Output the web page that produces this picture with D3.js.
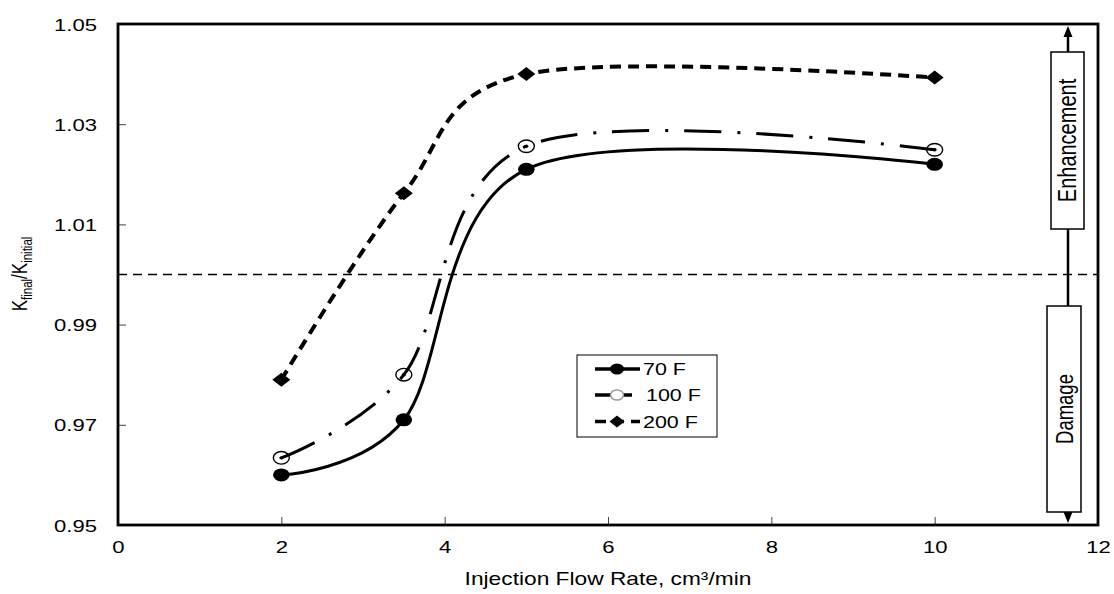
<!DOCTYPE html>
<html><head><meta charset="utf-8">
<script src="https://cdn.jsdelivr.net/npm/d3@7"></script>
<style>
html,body{margin:0;padding:0;background:#fff;}
svg text{font-family:"Liberation Sans",Arial,sans-serif;fill:#000;}
</style></head>
<body>
<svg id="chart" width="1114" height="594"></svg>
<script>
// ---- data ----
const flowRates = [2, 3.5, 5, 10];
const k70F  = [0.960, 0.971, 1.021, 1.022];
const k100F = [0.9634, 0.980, 1.0256, 1.0249];
const k200F = [0.979, 1.0162, 1.040, 1.0393];
const seriesNames = ["70 F", "100 F", "200 F"];
const xTickValues = [0, 2, 4, 6, 8, 10, 12];
const yTickValues = [0.95, 0.97, 0.99, 1.01, 1.03, 1.05];
const referenceLevel = 1.0;
const zoneLabels = ["Enhancement", "Damage"];
const xTitle = "Injection Flow Rate, cm³/min";

// ---- layout ----
const SX = 1.3; // horizontal text stretch
const svg = d3.select("#chart");
const L = 118, R = 1098, T = 24, B = 525;
const x = d3.scaleLinear().domain([0, 12]).range([L, R]);
const y = d3.scaleLinear().domain([0.95, 1.05]).range([B, T]);

// axes (ticks inward)
const gy = svg.append("g").attr("transform", `translate(${L},0)`)
  .call(d3.axisLeft(y).tickValues(yTickValues).tickFormat(d3.format(".2f"))
        .tickSizeInner(-8).tickSizeOuter(0).tickPadding(16));
const gx = svg.append("g").attr("transform", `translate(0,${B})`)
  .call(d3.axisBottom(x).tickValues(xTickValues).tickFormat(d3.format("d"))
        .tickSizeInner(-8).tickSizeOuter(0).tickPadding(16));
[gx, gy].forEach(g => {
  g.select(".domain").remove();
  g.selectAll(".tick line").attr("stroke", "#444").attr("stroke-width", 1);
  g.selectAll(".tick text").attr("font-size", 17).attr("fill", "#000")
    .attr("font-family", "Liberation Sans, Arial, sans-serif");
});
gy.selectAll(".tick text").attr("transform", `scale(${SX},1)`).attr("x", -21 / SX).attr("dy", "0.36em");
gx.selectAll(".tick text").attr("transform", `scale(${SX},1)`);
gx.selectAll(".tick").filter(d => d === 0 || d === 12).select("line").remove();

// reference dashed line at 1.0
svg.append("line")
  .attr("x1", x(0)).attr("x2", x(12)).attr("y1", y(referenceLevel)).attr("y2", y(referenceLevel))
  .attr("stroke", "#000").attr("stroke-width", 1.6).attr("stroke-dasharray", "9 6");

// plot border
svg.append("rect").attr("x", L).attr("y", T).attr("width", R - L).attr("height", B - T)
  .attr("fill", "none").attr("stroke", "#000").attr("stroke-width", 2.8);

// ---- series ----
const curve = d3.curveCardinal.tension(0);
const line = d3.line().x(d => x(d[0])).y(d => y(d[1])).curve(curve);
const zip = vals => flowRates.map((f, i) => [f, vals[i]]);
const styles = [
  { vals: k70F,  dash: null,          width: 3 },
  { vals: k100F, dash: "37 16 3 16",  width: 3 },
  { vals: k200F, dash: "11 7",        width: 4 }
];
styles.forEach(s => {
  svg.append("path").attr("d", line(zip(s.vals)))
    .attr("fill", "none").attr("stroke", "#000").attr("stroke-width", s.width)
    .attr("stroke-dasharray", s.dash);
});

const diamond = (cx, cy, hw, hh) => `M${cx},${cy-hh}L${cx+hw},${cy}L${cx},${cy+hh}L${cx-hw},${cy}Z`;
// markers
svg.append("g").selectAll("ellipse").data(zip(k70F)).join("ellipse")
  .attr("cx", d => x(d[0])).attr("cy", d => y(d[1])).attr("rx", 8.3).attr("ry", 6.5).attr("fill", "#000");
const m100 = svg.append("g").selectAll("g").data(zip(k100F)).join("g");
m100.append("ellipse").attr("cx", d => x(d[0])).attr("cy", d => y(d[1])).attr("rx", 8).attr("ry", 6.3)
  .attr("fill", "none").attr("stroke", "#000").attr("stroke-width", 1.4);
m100.append("ellipse").attr("cx", d => x(d[0])).attr("cy", d => y(d[1])).attr("rx", 2).attr("ry", 1.7).attr("fill", "#000");
svg.append("g").selectAll("path").data(zip(k200F)).join("path")
  .attr("d", d => diamond(x(d[0]), y(d[1]), 9, 7)).attr("fill", "#000");

// ---- legend ----
const lg = svg.append("g");
lg.append("rect").attr("x", 577).attr("y", 355).attr("width", 140).attr("height", 82)
  .attr("fill", "#fff").attr("stroke", "#000").attr("stroke-width", 1);
const rows = [369, 395, 421.5];
// 70 F
lg.append("line").attr("x1", 595).attr("x2", 640).attr("y1", rows[0]).attr("y2", rows[0]).attr("stroke", "#000").attr("stroke-width", 3.5);
lg.append("ellipse").attr("cx", 617).attr("cy", rows[0]).attr("rx", 7).attr("ry", 5.5).attr("fill", "#000");
// 100 F
lg.append("line").attr("x1", 595).attr("x2", 632).attr("y1", rows[1]).attr("y2", rows[1]).attr("stroke", "#000").attr("stroke-width", 3.5);
lg.append("ellipse").attr("cx", 617).attr("cy", rows[1]).attr("rx", 6.5).attr("ry", 5).attr("fill", "#fff").attr("stroke", "#999").attr("stroke-width", 1.5);
// 200 F
lg.append("line").attr("x1", 595).attr("x2", 640).attr("y1", rows[2]).attr("y2", rows[2]).attr("stroke", "#000").attr("stroke-width", 3.5).attr("stroke-dasharray", "11 7");
lg.append("path").attr("d", diamond(617, rows[2], 7.5, 6)).attr("fill", "#000");
const textX = [643, 646, 643];
seriesNames.forEach((n, i) => {
  lg.append("text").attr("transform", `translate(${textX[i]},${rows[i] + 6}) scale(${SX},1)`)
    .attr("font-size", 16.5).text(n);
});

// ---- enhancement / damage annotation ----
const ax = 1068;
svg.append("line").attr("x1", ax).attr("x2", ax).attr("y1", T + 10).attr("y2", B - 10)
  .attr("stroke", "#000").attr("stroke-width", 2.5);
svg.append("path").attr("d", `M${ax},${T + 2}L${ax + 4.5},${T + 13}L${ax - 4.5},${T + 13}Z`).attr("fill", "#000");
svg.append("path").attr("d", `M${ax},${B - 2}L${ax + 4.5},${B - 13}L${ax - 4.5},${B - 13}Z`).attr("fill", "#000");
const boxes = [
  { x0: 1051, x1: 1084, y0: 52, y1: 229, fs: 20 },
  { x0: 1047, x1: 1081, y0: 306, y1: 512, fs: 18.5 }
];
boxes.forEach((b, i) => {
  svg.append("rect").attr("x", b.x0).attr("y", b.y0).attr("width", b.x1 - b.x0).attr("height", b.y1 - b.y0)
    .attr("fill", "#fff").attr("stroke", "#000").attr("stroke-width", 1.5);
  svg.append("text")
    .attr("transform", `translate(${(b.x0 + b.x1) / 2 + 8.5},${(b.y0 + b.y1) / 2}) scale(${SX},1) rotate(-90)`)
    .attr("text-anchor", "middle").attr("font-size", b.fs).text(zoneLabels[i]);
});

// ---- axis titles ----
svg.append("text").attr("transform", `translate(${(L + R) / 2},${585}) scale(${SX},1)`)
  .attr("text-anchor", "middle").attr("font-size", 17.5).text(xTitle);
const yt = svg.append("text")
  .attr("transform", `translate(27,274) scale(${SX},1) rotate(-90)`)
  .attr("text-anchor", "middle").attr("font-size", 17);
yt.append("tspan").text("K");
yt.append("tspan").attr("font-size", 11.5).attr("dy", 4).text("final");
yt.append("tspan").attr("dy", -4).text("/K");
yt.append("tspan").attr("font-size", 11.5).attr("dy", 4).text("initial");
</script>
</body></html>
